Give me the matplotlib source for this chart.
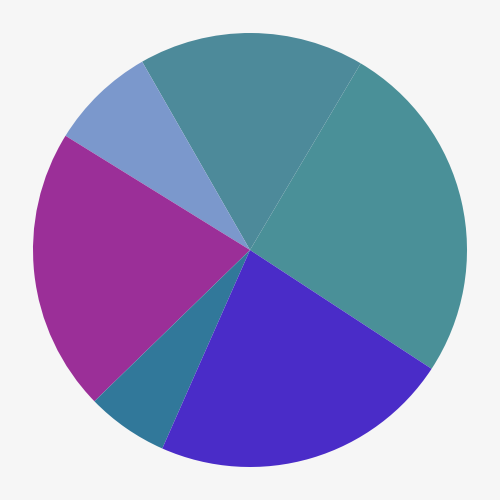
import matplotlib
matplotlib.use("Agg")
import matplotlib.pyplot as plt

categories = ["A", "B", "C", "D", "E", "F"]
values = [25.7, 16.8, 7.9, 21.1, 6.1, 22.4]
colors = ["#4a9098", "#4d8a9a", "#7b98cc", "#9b2f98", "#31789a", "#4a2cc8"]

fig = plt.figure(figsize=(5, 5), dpi=100, facecolor="#f6f6f6")
ax = fig.add_axes([0, 0, 1, 1])
ax.set_facecolor("#f6f6f6")
ax.pie(values, colors=colors, startangle=-33.2, counterclock=True,
       radius=1.0, wedgeprops=dict(linewidth=0))
ax.set_xlim(-250/217, 250/217)
ax.set_ylim(-250/217, 250/217)
ax.set_aspect("equal")
ax.axis("off")
fig.savefig("out.png", dpi=100, facecolor=fig.get_facecolor())
